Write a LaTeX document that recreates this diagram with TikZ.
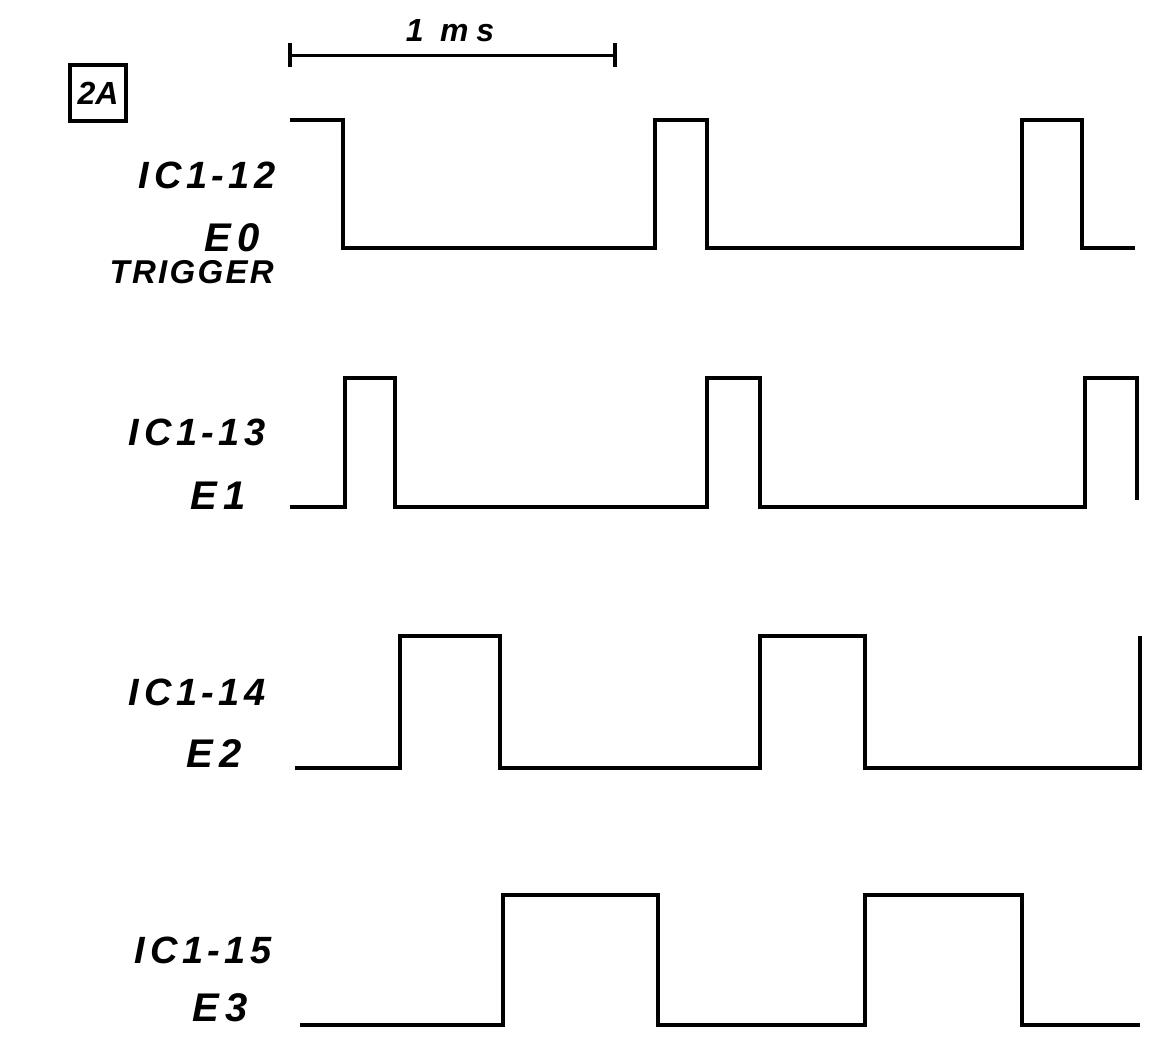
\documentclass[tikz,border=0pt]{standalone}
\usepackage{fontspec}
\setsansfont{Liberation Sans}
\begin{document}
\begin{tikzpicture}[x=1pt,y=-1pt,
  wave/.style={line width=4.6pt,line join=miter,line cap=butt},
  lbl/.style={anchor=east,inner sep=0pt,
    font=\sffamily\bfseries\itshape\fontsize{38}{40}\selectfont\addfontfeatures{LetterSpace=12}},
  elbl/.style={anchor=east,inner sep=0pt,
    font=\sffamily\bfseries\itshape\fontsize{40}{42}\selectfont\addfontfeatures{LetterSpace=16}},
  small/.style={anchor=east,inner sep=0pt,
    font=\sffamily\bfseries\itshape\fontsize{33}{35}\selectfont\addfontfeatures{LetterSpace=7}}]
\useasboundingbox (0,0) rectangle (1173,1058);

% figure tag
\node[draw,line width=4.5pt,minimum width=56pt,minimum height=56pt,inner sep=0pt,
  font=\sffamily\bfseries\itshape\fontsize{32}{34}\selectfont] (tag) at (98,93) {2A};

% time scale
\coordinate (sL) at (290,55);
\coordinate (sR) at (615,55);
\draw[line width=3pt] (sL) -- (sR);
\draw[line width=3.5pt] ([yshift=-12pt]sL) -- ([yshift=12pt]sL);
\draw[line width=3.5pt] ([yshift=-12pt]sR) -- ([yshift=12pt]sR);
\node[inner sep=0pt,font=\sffamily\bfseries\itshape\fontsize{32}{34}\selectfont\addfontfeatures{LetterSpace=24}]
  (ms) at (450,31) {1 ms};

% E0 / trigger
\draw[wave] (290,120) -- (343,120) -- (343,248) -- (655,248) -- (655,120)
  -- (707,120) -- (707,248) -- (1022,248) -- (1022,120) -- (1082,120)
  -- (1082,248) -- (1135,248);
% E1
\draw[wave] (290,507) -- (345,507) -- (345,378) -- (395,378) -- (395,507)
  -- (707,507) -- (707,378) -- (760,378) -- (760,507) -- (1085,507)
  -- (1085,378) -- (1137,378) -- (1137,500);
% E2
\draw[wave] (295,768) -- (400,768) -- (400,636) -- (500,636) -- (500,768)
  -- (760,768) -- (760,636) -- (865,636) -- (865,768) -- (1140,768)
  -- (1140,636);
% E3
\draw[wave] (300,1025) -- (503,1025) -- (503,895) -- (658,895) -- (658,1025)
  -- (865,1025) -- (865,895) -- (1022,895) -- (1022,1025) -- (1140,1025);

% signal names
\node[lbl] (n0) at (276,175) {IC1-12};
\node[elbl] (e0) at (260,238) {E0};
\node[small] (tr) at (274,272) {TRIGGER};
\node[lbl] (n1) at (266,432) {IC1-13};
\node[elbl] (e1) at (246,496) {E1};
\node[lbl] (n2) at (266,692) {IC1-14};
\node[elbl] (e2) at (242,754) {E2};
\node[lbl] (n3) at (272,950) {IC1-15};
\node[elbl] (e3) at (248,1008) {E3};
\end{tikzpicture}
\end{document}
